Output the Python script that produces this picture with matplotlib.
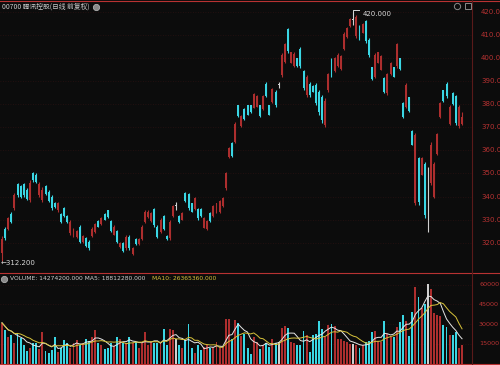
import matplotlib
matplotlib.use("Agg")
import matplotlib.pyplot as plt
from matplotlib.lines import Line2D
import pandas as pd

# daily candles, oldest first (price in HKD)
opens = [315.5, 326.0, 326.0, 332.5, 335.0, 345.5, 344.5, 345.5, 343.0, 338.5,
         350.0, 349.5, 340.5, 338.5, 344.5, 342.0, 340.0, 337.0, 334.0, 332.5,
         335.0, 331.5, 324.0, 323.0, 322.5, 327.0, 320.5, 322.0, 320.5, 323.0,
         324.5, 329.5, 328.0, 332.5, 334.0, 329.5, 323.5, 325.0, 318.0, 320.0,
         317.5, 322.5, 315.0, 321.5, 319.5, 321.5, 329.0, 331.0, 329.5, 334.5,
         327.0, 324.5, 331.5, 323.0, 322.0, 331.5, 336.0, 331.5, 330.0, 341.5,
         341.0, 337.0, 334.5, 334.5, 334.5, 326.5, 326.0, 333.0, 331.5, 333.0,
         333.5, 336.0, 343.5, 357.0, 363.0, 363.5, 379.5, 370.5, 378.0, 379.5,
         379.5, 378.5, 379.0, 379.5, 378.0, 389.0, 379.5, 381.0, 385.5, 388.5,
         392.5, 398.5, 412.5, 398.0, 396.5, 400.0, 404.0, 394.5, 384.0, 389.0,
         388.0, 388.5, 385.5, 383.0, 371.0, 386.0, 399.5, 394.5, 396.5, 395.5,
         404.0, 409.0, 414.0, 416.5, 409.5, 414.0, 411.0, 416.0, 408.0, 396.0,
         392.0, 398.0, 395.0, 391.5, 385.0, 393.0, 396.0, 396.5, 400.0, 380.5,
         379.0, 383.0, 368.5, 337.0, 356.5, 349.5, 354.0, 334.0, 346.0, 340.0,
         358.5, 374.5, 386.0, 389.0, 371.5, 385.0, 383.5, 370.5, 371.5]
highs = [323.0, 326.8, 331.1, 333.3, 341.5, 345.9, 345.0, 345.9, 343.7, 347.2,
         350.6, 350.2, 346.3, 344.1, 345.0, 342.8, 340.7, 337.6, 337.6, 332.9,
         335.5, 332.0, 329.8, 326.4, 325.5, 327.6, 323.3, 322.5, 321.1, 326.8,
         328.5, 329.8, 331.1, 332.9, 334.2, 329.8, 327.6, 325.5, 320.3, 320.3,
         323.3, 323.3, 318.1, 322.0, 322.0, 327.6, 334.2, 334.2, 333.3, 335.0,
         327.6, 330.7, 332.0, 323.3, 329.8, 336.3, 337.6, 332.0, 333.3, 342.0,
         341.5, 337.2, 339.8, 335.0, 335.0, 331.1, 329.8, 333.3, 336.3, 337.2,
         338.5, 339.8, 350.6, 361.5, 363.6, 372.3, 379.7, 375.3, 378.4, 379.7,
         379.7, 384.9, 384.0, 379.7, 384.0, 389.7, 379.7, 387.1, 386.2, 389.7,
         402.2, 406.6, 413.1, 402.7, 402.7, 400.1, 404.8, 394.9, 392.7, 389.7,
         388.4, 389.2, 386.2, 384.0, 382.7, 393.6, 400.1, 400.5, 402.2, 401.4,
         411.3, 413.5, 417.4, 420.0, 418.7, 414.4, 415.2, 416.5, 408.7, 396.2,
         402.2, 402.7, 401.4, 391.8, 393.6, 398.3, 396.2, 406.6, 400.1, 381.0,
         389.2, 383.2, 368.8, 367.5, 357.1, 357.1, 355.0, 353.0, 363.6, 355.0,
         367.5, 381.0, 386.2, 389.7, 379.7, 385.3, 384.0, 379.7, 376.6]
lows = [312.2, 321.1, 325.5, 328.5, 334.2, 339.8, 339.4, 339.8, 338.5, 337.6,
        346.3, 346.0, 339.8, 337.6, 340.7, 337.6, 334.2, 335.0, 333.3, 328.5,
        331.1, 328.5, 323.3, 322.5, 322.0, 319.8, 319.8, 318.1, 316.8, 322.5,
        324.2, 326.8, 327.6, 329.8, 330.7, 324.6, 323.3, 319.8, 317.7, 316.0,
        316.8, 316.8, 314.7, 319.0, 319.0, 321.1, 328.5, 330.7, 329.0, 326.8,
        322.0, 324.2, 325.5, 321.1, 321.1, 331.1, 334.2, 328.5, 329.8, 337.6,
        334.2, 333.3, 334.2, 329.8, 331.1, 326.4, 325.5, 329.0, 331.1, 332.9,
        332.9, 335.5, 342.8, 356.7, 357.1, 363.2, 374.5, 370.1, 373.2, 375.3,
        376.2, 378.4, 378.8, 374.5, 377.5, 383.2, 375.3, 380.6, 378.8, 387.1,
        391.8, 397.9, 402.2, 397.9, 396.2, 396.2, 395.7, 386.2, 383.2, 383.2,
        385.3, 379.7, 375.3, 371.9, 370.1, 385.3, 391.8, 394.0, 396.2, 394.9,
        403.5, 408.7, 413.5, 414.4, 408.7, 407.9, 410.9, 406.6, 400.5, 390.5,
        391.4, 397.9, 394.9, 384.9, 384.0, 392.7, 391.8, 395.7, 394.9, 374.0,
        378.4, 376.6, 362.3, 336.3, 336.3, 349.3, 330.7, 324.6, 345.0, 339.4,
        358.0, 374.0, 381.0, 382.7, 371.0, 379.7, 371.0, 369.7, 371.0]
closes = [321.5, 322.0, 330.5, 329.0, 340.5, 340.5, 340.0, 340.5, 339.0, 346.0,
          347.0, 346.5, 345.5, 343.0, 341.0, 338.0, 335.0, 335.5, 337.0, 329.0,
          331.5, 329.0, 329.0, 326.0, 325.0, 320.5, 323.0, 318.5, 317.5, 326.0,
          328.0, 327.0, 330.5, 330.0, 331.0, 325.0, 327.0, 320.5, 320.0, 316.5,
          322.5, 317.5, 317.5, 319.5, 321.5, 327.0, 333.5, 333.5, 333.0, 327.5,
          322.5, 330.0, 326.0, 321.5, 329.0, 336.0, 336.0, 329.0, 333.0, 338.0,
          335.0, 333.5, 339.5, 330.5, 331.5, 330.5, 329.5, 329.5, 336.0, 337.0,
          338.0, 339.5, 350.0, 361.0, 357.5, 371.5, 375.0, 375.0, 373.5, 375.5,
          376.5, 384.5, 383.5, 375.0, 383.5, 383.5, 375.5, 386.5, 379.5, 388.5,
          401.5, 406.0, 403.0, 402.5, 402.0, 396.5, 396.5, 387.0, 392.0, 384.0,
          385.5, 380.5, 376.5, 373.0, 381.5, 393.0, 392.5, 400.0, 401.5, 401.0,
          410.5, 413.0, 417.0, 416.5, 418.0, 408.5, 415.0, 407.5, 401.5, 391.0,
          401.5, 402.5, 401.0, 385.5, 393.0, 398.0, 392.0, 406.0, 395.5, 374.5,
          388.5, 377.0, 362.5, 366.5, 337.5, 356.5, 332.0, 334.0, 362.5, 354.0,
          367.0, 380.5, 381.5, 383.5, 379.0, 380.0, 372.0, 379.0, 374.5]
# volume in thousands of shares
volumes = [31000, 25500, 20400, 21700, 15400, 23500, 19200, 14100, 9800, 11500,
           15400, 15900, 10800, 24200, 9800, 8200, 10300, 19900, 9000, 11500,
           17900, 15400, 11500, 15400, 17900, 14100, 15400, 18400, 17400, 20400,
           25500, 15400, 14100, 11000, 11500, 15400, 13300, 20400, 18400, 15400,
           15900, 20400, 15400, 16600, 11500, 15400, 24200, 14100, 16600, 15900,
           15400, 15400, 26000, 14100, 26000, 25500, 18400, 14100, 11500, 17900,
           29800, 11500, 7800, 14100, 10300, 12800, 14100, 11500, 12800, 16100,
           11500, 12800, 33600, 33600, 18400, 33100, 31000, 21000, 22400, 12000,
           7200, 20400, 16400, 11000, 14000, 15800, 12800, 18600, 15800, 16000,
           27300, 28800, 27300, 16400, 15600, 14000, 14000, 24700, 21700, 8800,
           21700, 22400, 32600, 26300, 20400, 29300, 30000, 28500, 18600, 18600,
           17100, 16400, 14800, 14800, 14000, 11800, 14000, 16400, 17100, 24200,
           24700, 17100, 16600, 32400, 22200, 20400, 20400, 28000, 31400, 36900,
           32400, 21200, 39000, 58000, 50400, 42500, 45300, 60300, 56500, 38500,
           37000, 36500, 29500, 28100, 22000, 22000, 24000, 11800, 14274]

price_ticks = [420, 410, 400, 390, 380, 370, 360, 350, 340, 330, 320]
vol_ticks = [60000, 45000, 30000, 15000]
title = "00700 腾讯控股(日线 前复权)"

BG = "#0c0c0c"
UP = "#ad2e2e"
DOWN = "#3ad6e4"
FLAT = "#d0d0d0"
AXRED = "#b83232"
GRID = "#2a1111"

W, H = 500, 365
fx = lambda px: px / W
fy = lambda py: 1 - py / H

fig = plt.figure(figsize=(5, 3.65), dpi=100, facecolor=BG)
ax = fig.add_axes([0, fy(271), fx(472), (271 - 2) / H])
axv = fig.add_axes([0, fy(363.5), fx(472), (363.5 - 273) / H])
for a in (ax, axv):
    a.set_facecolor("none")
    a.axis("off")
    a.set_xlim(-0.64, 151.2)
ax.set_ylim(307.73, 424.33)
axv.set_ylim(0, 68900)

n = len(closes)
idx = list(range(n))
colors = [UP if c > o else DOWN if c < o else FLAT for o, c in zip(opens, closes)]

for p in price_ticks:
    ax.axhline(p, color=GRID, lw=0.6, ls=(0, (1, 2)), zorder=0)
for v in vol_ticks:
    axv.axhline(v, color=GRID, lw=0.6, ls=(0, (1, 2)), zorder=0)

ax.vlines(idx, lows, highs, colors=colors, lw=0.8, zorder=2)
bottoms = [min(o, c) for o, c in zip(opens, closes)]
heights = [max(abs(c - o), 0.35) for o, c in zip(opens, closes)]
ax.bar(idx, heights, bottom=bottoms, width=0.62, color=colors, lw=0, zorder=3)

axv.bar(idx, volumes, width=0.62, color=colors, lw=0, zorder=2)
vs = pd.Series(volumes)
axv.plot(idx, vs.rolling(5, min_periods=1).mean(), color="#e6e6e6", lw=0.7, zorder=3)
axv.plot(idx, vs.rolling(10, min_periods=1).mean(), color="#d8c33a", lw=0.7, zorder=3)

# right scales
for p in price_ticks:
    ax.text(481 / 472, p, "%.1f" % p, transform=ax.get_yaxis_transform(),
            color=AXRED, fontsize=5, ha="left", va="center", clip_on=False)
for v in vol_ticks:
    axv.text(479 / 472, v, "%d" % v, transform=axv.get_yaxis_transform(),
             color=AXRED, fontsize=4.6, ha="left", va="center", clip_on=False)

# frame lines
for y in (0.5, 272.5, 364.2):
    fig.add_artist(Line2D([0, 1], [fy(y), fy(y)], color=AXRED, lw=0.8))
fig.add_artist(Line2D([fx(472), fx(472)], [fy(0), fy(365)], color="#5a1a1a", lw=0.8))

# high / low marks
imax = highs.index(max(highs))
imin = lows.index(min(lows))
ax.annotate("%.3f" % max(highs), xy=(imax, max(highs)), xytext=(9, -2),
            textcoords="offset pixels", color="#d8d8d8", fontsize=5, ha="left", va="center")
px, py = ax.transData.transform((imax, max(highs)))
fig.add_artist(Line2D([px, px, px + 6], [py - 6, py + 2, py + 2], color="#d8d8d8",
                      lw=0.7, transform=None))
ax.annotate("←%.3f" % min(lows), xy=(imin, min(lows)), xytext=(-1, -2),
            textcoords="offset pixels", color="#d8d8d8", fontsize=5, ha="left", va="center")

# header texts
fig.text(fx(2), fy(7), title, color="#cccccc", fontsize=4.9,
         family=["Noto Sans CJK SC", "DejaVu Sans"], ha="left", va="center")
fig.add_artist(Line2D([fx(96)], [fy(7)], marker="o", ms=4.5, mfc="#8a8a8a", mec="#b0b0b0", mew=0.6))
fig.add_artist(Line2D([fx(457)], [fy(6)], marker="o", ms=4.5, mfc="none", mec="#8a8a8a", mew=0.7))
fig.add_artist(Line2D([fx(468)], [fy(6)], marker="s", ms=4.5, mfc="none", mec="#8a8a8a", mew=0.7))

fig.add_artist(Line2D([fx(4)], [fy(278.5)], marker="o", ms=4.5, mfc="#8a8a8a", mec="#b0b0b0", mew=0.6))
fig.text(fx(10), fy(278.5), "VOLUME: 14274200.000 MA5: 18812280.000", color="#d0d0d0",
         fontsize=4.3, ha="left", va="center")
fig.text(fx(152), fy(278.5), "MA10: 26365360.000", color="#d8c33a",
         fontsize=4.3, ha="left", va="center")

fig.savefig("out.png", dpi=100, facecolor=BG)
